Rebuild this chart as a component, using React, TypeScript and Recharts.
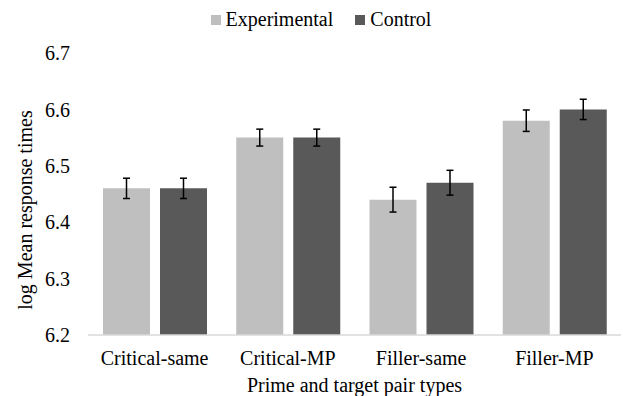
import { BarChart, Bar, XAxis, YAxis, Legend, ErrorBar, Label } from 'recharts'

const categories = ['Critical-same', 'Critical-MP', 'Filler-same', 'Filler-MP']
const experimental = [6.46, 6.55, 6.44, 6.58]
const control = [6.46, 6.55, 6.47, 6.6]
const experimentalErr = [0.018, 0.015, 0.022, 0.019]
const controlErr = [0.018, 0.015, 0.022, 0.018]
const yTicks = [6.2, 6.3, 6.4, 6.5, 6.6, 6.7]

const data = categories.map((name, i) => ({
  name,
  exp: experimental[i],
  ctrl: control[i],
  expErr: experimentalErr[i],
  ctrlErr: controlErr[i],
}))

const FONT = '"Liberation Serif", "Times New Roman", serif'
const LIGHT = '#bfbfbf'
const DARK = '#595959'

function LegendBox() {
  const items = [
    { label: 'Experimental', color: LIGHT },
    { label: 'Control', color: DARK },
  ]
  return (
    <div style={{ display: 'flex', justifyContent: 'center', gap: 22, fontFamily: FONT, fontSize: 20, color: '#000', paddingLeft: 21 }}>
      {items.map((it) => (
        <div key={it.label} style={{ display: 'flex', alignItems: 'center' }}>
          <span style={{ display: 'inline-block', width: 10, height: 10, background: it.color, marginRight: 5 }} />
          <span>{it.label}</span>
        </div>
      ))}
    </div>
  )
}

function YLabel(props: any) {
  const vb = props.viewBox
  const x = vb.x + 25
  const y = vb.y + vb.height / 2 + 16
  return (
    <text x={x} y={y} transform={`rotate(-90 ${x} ${y})`} textAnchor="middle" dominantBaseline="central"
          fontFamily={FONT} fontSize={20} fill="#000">
      log Mean response times
    </text>
  )
}

export default function App() {
  return (
    <div style={{ width: 623, height: 396, background: '#fff' }}>
      <style>{`body { margin: 0; }`}</style>
      <BarChart width={623} height={396} data={data} margin={{ top: 30, right: 2, bottom: 0, left: 0 }}
                barCategoryGap={15} barGap={10}>
        <Legend verticalAlign="top" align="center" content={() => <LegendBox />} wrapperStyle={{ top: 8 }} />
        <XAxis dataKey="name" height={61} tickLine={false} axisLine={{ stroke: '#d9d9d9', strokeWidth: 1.5 }}
               tickMargin={10} tick={{ fill: '#000', fontSize: 20, fontFamily: FONT }} interval={0}>
          <Label value="Prime and target pair types" position="insideBottom" offset={4}
                 style={{ fill: '#000', fontSize: 20, fontFamily: FONT }} />
        </XAxis>
        <YAxis width={88} domain={[6.2, 6.7]} ticks={yTicks} axisLine={false} tickLine={false} tickMargin={12}
               tickFormatter={(v: number) => v.toFixed(1)} allowDataOverflow
               tick={{ fill: '#000', fontSize: 20, fontFamily: FONT }}>
          <Label content={<YLabel />} />
        </YAxis>
        <Bar dataKey="exp" fill={LIGHT} isAnimationActive={false}>
          <ErrorBar dataKey="expErr" width={3.5} stroke="#000" strokeWidth={1.5} direction="y" />
        </Bar>
        <Bar dataKey="ctrl" fill={DARK} isAnimationActive={false}>
          <ErrorBar dataKey="ctrlErr" width={3.5} stroke="#000" strokeWidth={1.5} direction="y" />
        </Bar>
      </BarChart>
    </div>
  )
}
